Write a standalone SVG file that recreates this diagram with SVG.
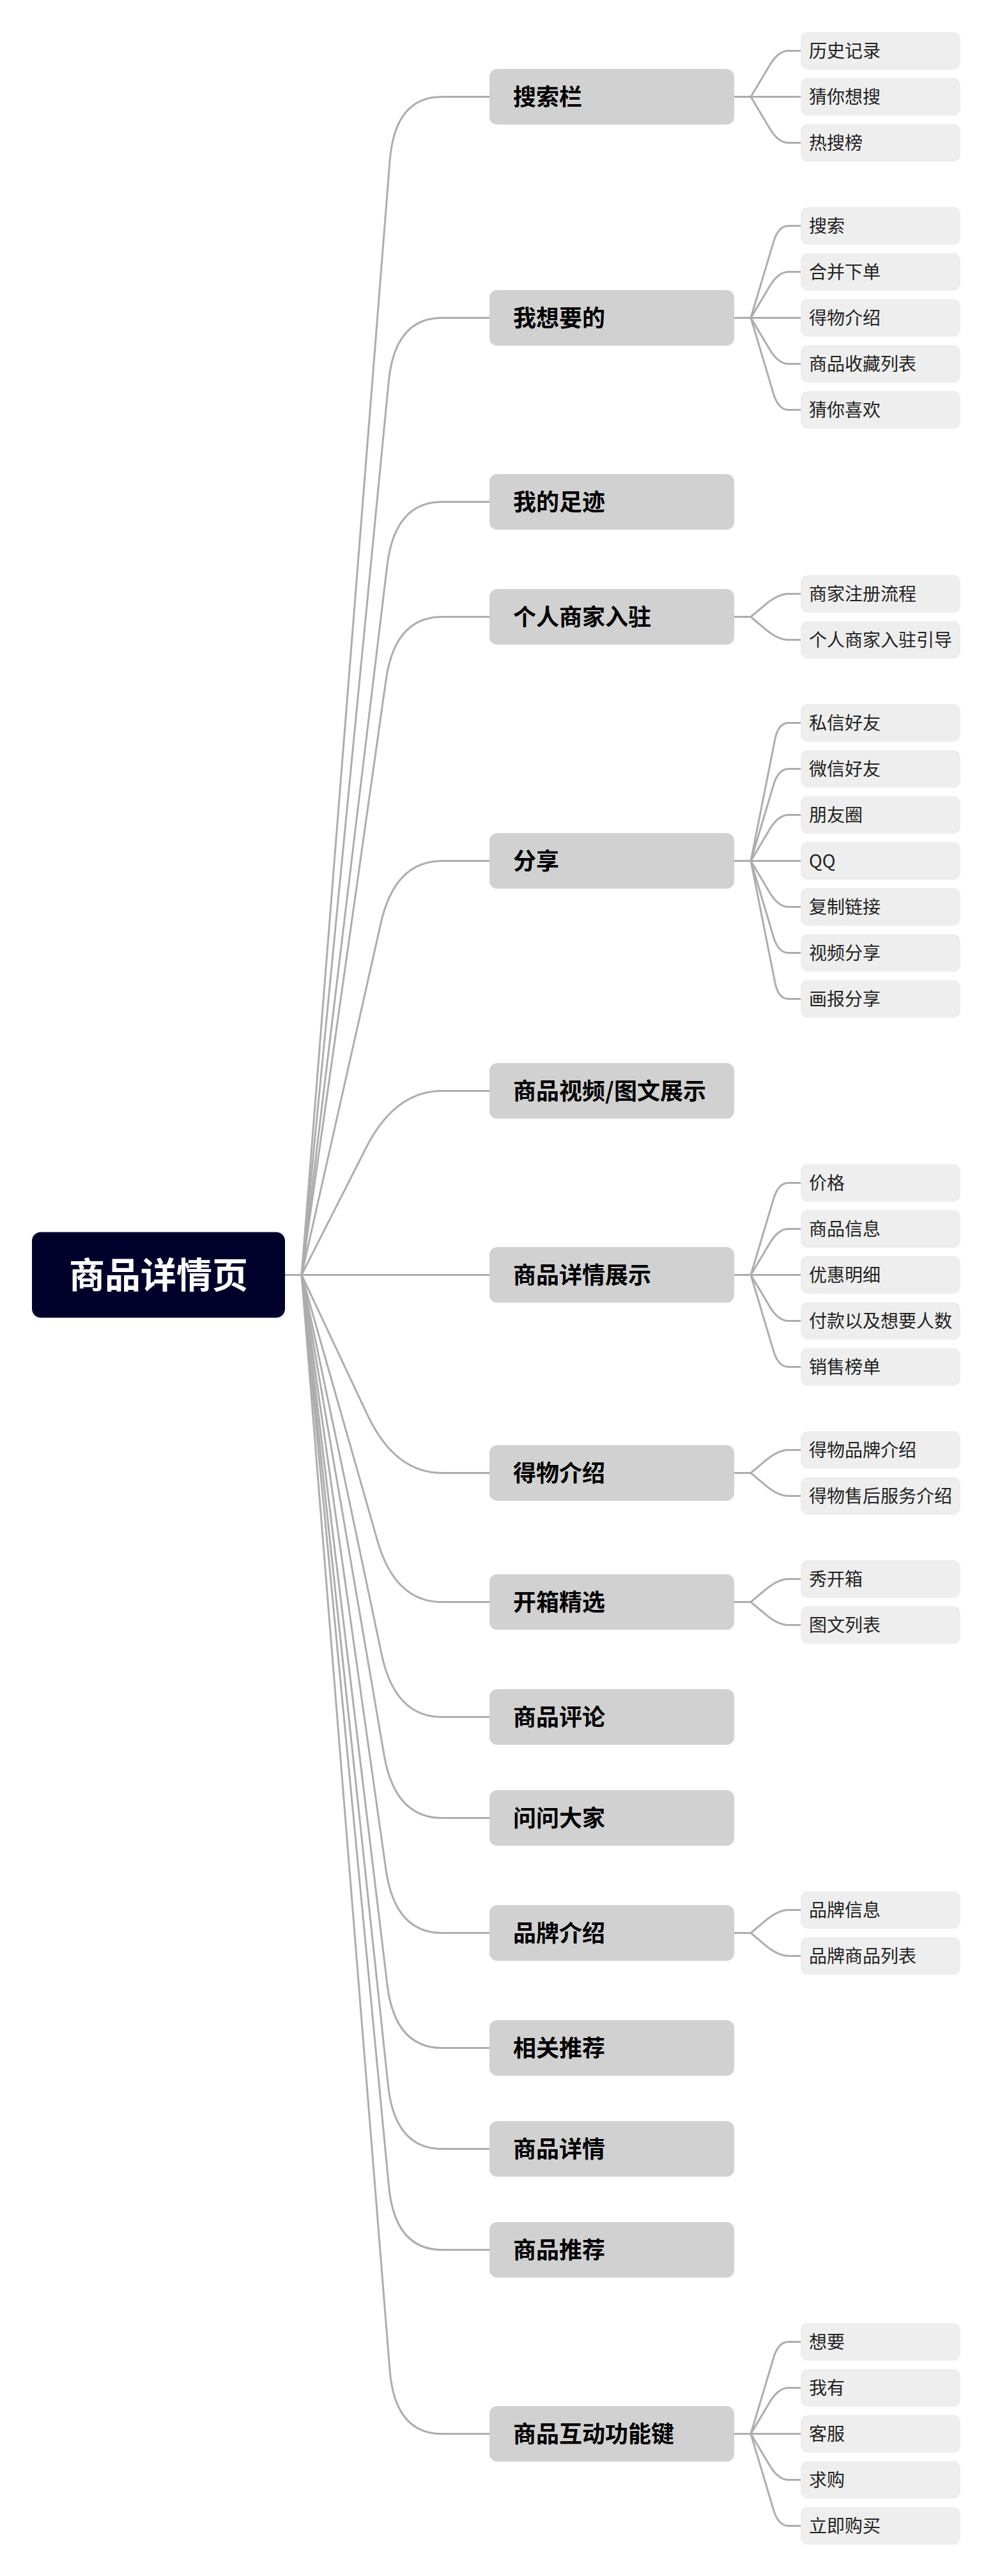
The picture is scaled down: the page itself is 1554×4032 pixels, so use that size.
<svg xmlns="http://www.w3.org/2000/svg" width="1554" height="4032" viewBox="0 0 1554 4032">
<style>
.bg{fill:#ffffff}
.c{fill:none;stroke:#adadad;stroke-width:3}
.root rect{fill:#00002a}
.root text{fill:#ffffff;font-family:"Noto Sans CJK SC","Noto Sans",sans-serif;font-size:56px;font-weight:bold;text-anchor:middle}
.l1 rect{fill:#d1d1d1}
.l1 text{fill:#000000;font-family:"Noto Sans CJK SC","Noto Sans",sans-serif;font-size:36px;font-weight:bold}
.lf rect{fill:#eeeeee}
.lf text{fill:#222222;font-family:"Noto Sans CJK SC","Noto Sans",sans-serif;font-size:28px}
</style>
<rect class="bg" x="0" y="0" width="1554" height="4032"/>
<g id="connectors">
<path class="c" d="M446 1995.5 H472 L610.1 251.2 Q618 151.5 692 151.5 H766"/>
<path class="c" d="M446 1995.5 H472 L608.3 597 Q618 497.5 692 497.5 H766"/>
<path class="c" d="M446 1995.5 H472 L606 884.8 Q618 785.5 692 785.5 H766"/>
<path class="c" d="M446 1995.5 H472 L604 1064.5 Q618 965.5 692 965.5 H766"/>
<path class="c" d="M446 1995.5 H472 L596 1445.1 Q618 1347.5 692 1347.5 H766"/>
<path class="c" d="M446 1995.5 H472 L572.8 1796.7 Q618 1707.5 692 1707.5 H766"/>
<path class="c" d="M446 1995.5 H766"/>
<path class="c" d="M446 1995.5 H472 L575.3 2215.1 Q618 2305.5 692 2305.5 H766"/>
<path class="c" d="M446 1995.5 H472 L590.6 2411.3 Q618 2507.5 692 2507.5 H766"/>
<path class="c" d="M446 1995.5 H472 L597.3 2589.7 Q618 2687.5 692 2687.5 H766"/>
<path class="c" d="M446 1995.5 H472 L601.1 2747 Q618 2845.5 692 2845.5 H766"/>
<path class="c" d="M446 1995.5 H472 L604 2926.5 Q618 3025.5 692 3025.5 H766"/>
<path class="c" d="M446 1995.5 H472 L606 3106.2 Q618 3205.5 692 3205.5 H766"/>
<path class="c" d="M446 1995.5 H472 L607.4 3264.1 Q618 3363.5 692 3363.5 H766"/>
<path class="c" d="M446 1995.5 H472 L608.5 3422 Q618 3521.5 692 3521.5 H766"/>
<path class="c" d="M446 1995.5 H472 L610 3709.8 Q618 3809.5 692 3809.5 H766"/>

<path class="c" d="M1149 151.5 H1175 L1204.7 101.8 Q1218 79.5 1234 79.5 H1253"/>
<path class="c" d="M1149 151.5 H1253"/>
<path class="c" d="M1149 151.5 H1175 L1204.7 201.2 Q1218 223.5 1234 223.5 H1253"/>

<path class="c" d="M1149 497.5 H1175 L1210.6 378.4 Q1218 353.5 1234 353.5 H1253"/>
<path class="c" d="M1149 497.5 H1175 L1204.7 447.8 Q1218 425.5 1234 425.5 H1253"/>
<path class="c" d="M1149 497.5 H1253"/>
<path class="c" d="M1149 497.5 H1175 L1204.7 547.2 Q1218 569.5 1234 569.5 H1253"/>
<path class="c" d="M1149 497.5 H1175 L1210.6 616.6 Q1218 641.5 1234 641.5 H1253"/>

<path class="c" d="M1149 965.5 H1175 L1198.6 945.7 Q1218 929.5 1234 929.5 H1253"/>
<path class="c" d="M1149 965.5 H1175 L1198.6 985.3 Q1218 1001.5 1234 1001.5 H1253"/>

<path class="c" d="M1149 1347.5 H1175 L1212.9 1157 Q1218 1131.5 1234 1131.5 H1253"/>
<path class="c" d="M1149 1347.5 H1175 L1210.6 1228.4 Q1218 1203.5 1234 1203.5 H1253"/>
<path class="c" d="M1149 1347.5 H1175 L1204.7 1297.8 Q1218 1275.5 1234 1275.5 H1253"/>
<path class="c" d="M1149 1347.5 H1253"/>
<path class="c" d="M1149 1347.5 H1175 L1204.7 1397.2 Q1218 1419.5 1234 1419.5 H1253"/>
<path class="c" d="M1149 1347.5 H1175 L1210.6 1466.6 Q1218 1491.5 1234 1491.5 H1253"/>
<path class="c" d="M1149 1347.5 H1175 L1212.9 1538 Q1218 1563.5 1234 1563.5 H1253"/>

<path class="c" d="M1149 1995.5 H1175 L1210.6 1876.4 Q1218 1851.5 1234 1851.5 H1253"/>
<path class="c" d="M1149 1995.5 H1175 L1204.7 1945.8 Q1218 1923.5 1234 1923.5 H1253"/>
<path class="c" d="M1149 1995.5 H1253"/>
<path class="c" d="M1149 1995.5 H1175 L1204.7 2045.2 Q1218 2067.5 1234 2067.5 H1253"/>
<path class="c" d="M1149 1995.5 H1175 L1210.6 2114.6 Q1218 2139.5 1234 2139.5 H1253"/>

<path class="c" d="M1149 2305.5 H1175 L1198.6 2285.7 Q1218 2269.5 1234 2269.5 H1253"/>
<path class="c" d="M1149 2305.5 H1175 L1198.6 2325.3 Q1218 2341.5 1234 2341.5 H1253"/>

<path class="c" d="M1149 2507.5 H1175 L1198.6 2487.7 Q1218 2471.5 1234 2471.5 H1253"/>
<path class="c" d="M1149 2507.5 H1175 L1198.6 2527.3 Q1218 2543.5 1234 2543.5 H1253"/>

<path class="c" d="M1149 3025.5 H1175 L1198.6 3005.7 Q1218 2989.5 1234 2989.5 H1253"/>
<path class="c" d="M1149 3025.5 H1175 L1198.6 3045.3 Q1218 3061.5 1234 3061.5 H1253"/>

<path class="c" d="M1149 3809.5 H1175 L1210.6 3690.4 Q1218 3665.5 1234 3665.5 H1253"/>
<path class="c" d="M1149 3809.5 H1175 L1204.7 3759.8 Q1218 3737.5 1234 3737.5 H1253"/>
<path class="c" d="M1149 3809.5 H1253"/>
<path class="c" d="M1149 3809.5 H1175 L1204.7 3859.2 Q1218 3881.5 1234 3881.5 H1253"/>
<path class="c" d="M1149 3809.5 H1175 L1210.6 3928.6 Q1218 3953.5 1234 3953.5 H1253"/>
</g>

<g id="root" class="root"><rect x="50" y="1928.5" width="396" height="134" rx="14"/><text x="248" y="2016">商品详情页</text></g>

<g id="n-search" class="l1"><rect x="766" y="108" width="383" height="87" rx="12"/><text x="803" y="164.5">搜索栏</text></g>
<g id="n-want" class="l1"><rect x="766" y="454" width="383" height="87" rx="12"/><text x="803" y="510.5">我想要的</text></g>
<g id="n-foot" class="l1"><rect x="766" y="742" width="383" height="87" rx="12"/><text x="803" y="798.5">我的足迹</text></g>
<g id="n-merchant" class="l1"><rect x="766" y="922" width="383" height="87" rx="12"/><text x="803" y="978.5">个人商家入驻</text></g>
<g id="n-share" class="l1"><rect x="766" y="1304" width="383" height="87" rx="12"/><text x="803" y="1360.5">分享</text></g>
<g id="n-video" class="l1"><rect x="766" y="1664" width="383" height="87" rx="12"/><text x="803" y="1720.5">商品视频/图文展示</text></g>
<g id="n-detailshow" class="l1"><rect x="766" y="1952" width="383" height="87" rx="12"/><text x="803" y="2008.5">商品详情展示</text></g>
<g id="n-dewu" class="l1"><rect x="766" y="2262" width="383" height="87" rx="12"/><text x="803" y="2318.5">得物介绍</text></g>
<g id="n-unbox" class="l1"><rect x="766" y="2464" width="383" height="87" rx="12"/><text x="803" y="2520.5">开箱精选</text></g>
<g id="n-review" class="l1"><rect x="766" y="2644" width="383" height="87" rx="12"/><text x="803" y="2700.5">商品评论</text></g>
<g id="n-ask" class="l1"><rect x="766" y="2802" width="383" height="87" rx="12"/><text x="803" y="2858.5">问问大家</text></g>
<g id="n-brand" class="l1"><rect x="766" y="2982" width="383" height="87" rx="12"/><text x="803" y="3038.5">品牌介绍</text></g>
<g id="n-related" class="l1"><rect x="766" y="3162" width="383" height="87" rx="12"/><text x="803" y="3218.5">相关推荐</text></g>
<g id="n-detail" class="l1"><rect x="766" y="3320" width="383" height="87" rx="12"/><text x="803" y="3376.5">商品详情</text></g>
<g id="n-recommend" class="l1"><rect x="766" y="3478" width="383" height="87" rx="12"/><text x="803" y="3534.5">商品推荐</text></g>
<g id="n-interact" class="l1"><rect x="766" y="3766" width="383" height="87" rx="12"/><text x="803" y="3822.5">商品互动功能键</text></g>

<g id="l-history" class="lf"><rect x="1253" y="50" width="250" height="59" rx="11"/><text x="1266" y="89.5">历史记录</text></g>
<g id="l-guess-search" class="lf"><rect x="1253" y="122" width="250" height="59" rx="11"/><text x="1266" y="161.5">猜你想搜</text></g>
<g id="l-hot" class="lf"><rect x="1253" y="194" width="250" height="59" rx="11"/><text x="1266" y="233.5">热搜榜</text></g>

<g id="l-search" class="lf"><rect x="1253" y="324" width="250" height="59" rx="11"/><text x="1266" y="363.5">搜索</text></g>
<g id="l-merge" class="lf"><rect x="1253" y="396" width="250" height="59" rx="11"/><text x="1266" y="435.5">合并下单</text></g>
<g id="l-dewu-intro" class="lf"><rect x="1253" y="468" width="250" height="59" rx="11"/><text x="1266" y="507.5">得物介绍</text></g>
<g id="l-fav" class="lf"><rect x="1253" y="540" width="250" height="59" rx="11"/><text x="1266" y="579.5">商品收藏列表</text></g>
<g id="l-guess-like" class="lf"><rect x="1253" y="612" width="250" height="59" rx="11"/><text x="1266" y="651.5">猜你喜欢</text></g>

<g id="l-register" class="lf"><rect x="1253" y="900" width="250" height="59" rx="11"/><text x="1266" y="939.5">商家注册流程</text></g>
<g id="l-guide" class="lf"><rect x="1253" y="972" width="250" height="59" rx="11"/><text x="1266" y="1011.5">个人商家入驻引导</text></g>

<g id="l-dm" class="lf"><rect x="1253" y="1102" width="250" height="59" rx="11"/><text x="1266" y="1141.5">私信好友</text></g>
<g id="l-wechat" class="lf"><rect x="1253" y="1174" width="250" height="59" rx="11"/><text x="1266" y="1213.5">微信好友</text></g>
<g id="l-moments" class="lf"><rect x="1253" y="1246" width="250" height="59" rx="11"/><text x="1266" y="1285.5">朋友圈</text></g>
<g id="l-qq" class="lf"><rect x="1253" y="1318" width="250" height="59" rx="11"/><text x="1266" y="1357.5">QQ</text></g>
<g id="l-copy" class="lf"><rect x="1253" y="1390" width="250" height="59" rx="11"/><text x="1266" y="1429.5">复制链接</text></g>
<g id="l-vshare" class="lf"><rect x="1253" y="1462" width="250" height="59" rx="11"/><text x="1266" y="1501.5">视频分享</text></g>
<g id="l-poster" class="lf"><rect x="1253" y="1534" width="250" height="59" rx="11"/><text x="1266" y="1573.5">画报分享</text></g>

<g id="l-price" class="lf"><rect x="1253" y="1822" width="250" height="59" rx="11"/><text x="1266" y="1861.5">价格</text></g>
<g id="l-info" class="lf"><rect x="1253" y="1894" width="250" height="59" rx="11"/><text x="1266" y="1933.5">商品信息</text></g>
<g id="l-discount" class="lf"><rect x="1253" y="1966" width="250" height="59" rx="11"/><text x="1266" y="2005.5">优惠明细</text></g>
<g id="l-paid" class="lf"><rect x="1253" y="2038" width="250" height="59" rx="11"/><text x="1266" y="2077.5">付款以及想要人数</text></g>
<g id="l-rank" class="lf"><rect x="1253" y="2110" width="250" height="59" rx="11"/><text x="1266" y="2149.5">销售榜单</text></g>

<g id="l-dewu-brand" class="lf"><rect x="1253" y="2240" width="250" height="59" rx="11"/><text x="1266" y="2279.5">得物品牌介绍</text></g>
<g id="l-dewu-service" class="lf"><rect x="1253" y="2312" width="250" height="59" rx="11"/><text x="1266" y="2351.5">得物售后服务介绍</text></g>

<g id="l-show-unbox" class="lf"><rect x="1253" y="2442" width="250" height="59" rx="11"/><text x="1266" y="2481.5">秀开箱</text></g>
<g id="l-imgtext" class="lf"><rect x="1253" y="2514" width="250" height="59" rx="11"/><text x="1266" y="2553.5">图文列表</text></g>

<g id="l-brand-info" class="lf"><rect x="1253" y="2960" width="250" height="59" rx="11"/><text x="1266" y="2999.5">品牌信息</text></g>
<g id="l-brand-list" class="lf"><rect x="1253" y="3032" width="250" height="59" rx="11"/><text x="1266" y="3071.5">品牌商品列表</text></g>

<g id="l-want" class="lf"><rect x="1253" y="3636" width="250" height="59" rx="11"/><text x="1266" y="3675.5">想要</text></g>
<g id="l-have" class="lf"><rect x="1253" y="3708" width="250" height="59" rx="11"/><text x="1266" y="3747.5">我有</text></g>
<g id="l-service" class="lf"><rect x="1253" y="3780" width="250" height="59" rx="11"/><text x="1266" y="3819.5">客服</text></g>
<g id="l-seek" class="lf"><rect x="1253" y="3852" width="250" height="59" rx="11"/><text x="1266" y="3891.5">求购</text></g>
<g id="l-buy" class="lf"><rect x="1253" y="3924" width="250" height="59" rx="11"/><text x="1266" y="3963.5">立即购买</text></g>
</svg>
